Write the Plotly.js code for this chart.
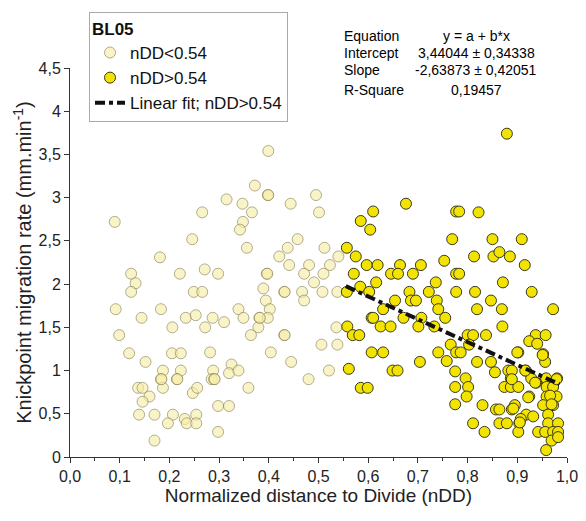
<!DOCTYPE html>
<html>
<head>
<meta charset="utf-8">
<script src="https://cdn.plot.ly/plotly-3.0.1.min.js"></script>
<style>html,body{margin:0;padding:0;background:#fff;}#chart{width:586px;height:521px;}</style>
</head>
<body>
<div id="chart"></div>
<script>
// nDD < 0.54 (pale markers)
var lowX = [0.090,0.266,0.246,0.181,0.123,0.132,0.123,0.221,0.271,0.249,0.266,0.092,0.144,0.183,0.206,0.233,0.253,0.272,0.099,0.119,0.152,0.205,0.223,0.187,0.183,0.187,0.223,0.215,0.137,0.146,0.160,0.146,0.247,0.256,0.139,0.170,0.207,0.197,0.231,0.235,0.254,0.254,0.170,
  0.399,0.372,0.398,0.315,0.347,0.366,0.444,0.495,0.501,0.348,0.342,0.356,0.458,0.438,0.421,0.512,0.441,0.481,0.523,0.540,0.396,0.471,0.510,0.491,0.298,0.389,0.431,0.467,0.508,0.538,0.394,0.471,0.402,0.339,0.349,0.381,0.398,0.379,0.364,0.431,0.287,0.310,0.536,0.538,0.506,0.404,0.282,0.445,0.521,0.480,0.325,0.320,0.339,0.288,0.285,0.290,0.359,0.298,0.320,0.298,
  0.399,0.397,0.432,0.382,0.432,0.184,0.216,0.291];
var lowY = [2.72,2.83,2.52,2.31,2.12,2.01,1.91,2.12,2.17,1.91,1.91,1.71,1.61,1.71,1.50,1.61,1.64,1.50,1.41,1.20,1.10,1.20,1.20,1.00,0.90,0.80,1.00,0.90,0.80,0.80,0.70,0.64,0.74,0.80,0.49,0.49,0.49,0.39,0.44,0.39,0.49,0.39,0.19,
  3.54,3.14,3.03,2.98,2.93,2.83,2.93,3.03,2.83,2.72,2.63,2.42,2.52,2.42,2.32,2.42,2.22,2.22,2.22,2.32,2.12,2.12,2.12,2.02,2.12,1.95,1.91,1.91,1.91,1.91,1.81,1.81,1.71,1.71,1.61,1.61,1.61,1.50,1.41,1.41,1.61,1.56,1.50,1.30,1.30,1.21,1.21,1.10,1.00,0.90,1.07,0.97,1.00,1.00,0.90,0.90,0.80,0.59,0.59,0.29,
  3.03,2.12,1.91,1.61,1.41,0.90,0.90,0.90];

// nDD > 0.54 (yellow markers)
var highX = [0.676,0.610,0.585,0.604,0.777,0.783,0.769,0.557,0.575,0.753,0.597,0.619,0.664,0.706,0.571,0.646,0.660,0.690,0.777,0.783,0.616,0.736,0.584,0.602,0.557,0.683,0.722,0.777,0.738,0.686,0.696,0.654,0.630,0.741,0.607,0.610,0.671,0.707,0.755,0.558,0.625,0.645,0.701,0.733,0.569,0.582,0.766,0.777,0.786,0.607,0.630,0.741,0.758,0.704,0.561,0.649,0.659,0.775,0.585,0.599,0.775,0.775,
  0.879,0.822,0.850,0.909,0.813,0.852,0.864,0.885,0.915,0.815,0.871,0.929,0.847,0.819,0.869,0.972,0.870,0.800,0.811,0.837,0.803,0.937,0.957,0.924,0.940,0.902,0.952,0.956,0.819,0.847,0.882,0.855,0.917,0.928,0.887,0.938,0.958,0.980,0.796,0.801,0.874,0.887,0.902,0.959,0.972,0.798,0.924,0.959,0.979,0.830,0.857,0.864,0.889,0.895,0.952,0.972,0.962,0.918,0.932,0.907,0.811,0.864,0.879,0.904,0.962,0.982,0.834,0.902,0.942,0.956,0.972,0.982,0.969,0.958,0.982,
  0.900,0.951,0.889,0.889,0.916,0.936,0.922,0.979,0.966,0.892,0.905,0.969];
var highY = [2.93,2.84,2.73,2.63,2.84,2.84,2.52,2.42,2.32,2.27,2.22,2.22,2.22,2.22,2.12,2.12,2.12,2.12,2.12,2.12,2.02,2.02,1.97,1.91,1.91,1.91,1.91,1.91,1.81,1.81,1.81,1.81,1.71,1.71,1.61,1.61,1.61,1.61,1.61,1.51,1.51,1.51,1.51,1.51,1.41,1.41,1.30,1.21,1.21,1.21,1.21,1.21,1.11,1.10,1.02,1.00,1.00,0.99,0.80,0.80,0.81,0.61,
  3.74,2.83,2.52,2.52,2.32,2.32,2.37,2.32,2.22,1.91,2.02,1.91,1.81,1.71,1.71,1.71,1.51,1.41,1.41,1.41,1.30,1.41,1.41,1.34,1.31,1.21,1.19,1.10,1.10,1.10,1.00,0.98,1.00,0.91,0.91,0.86,0.91,0.91,0.91,0.81,0.81,0.81,0.81,0.81,0.81,0.70,0.70,0.70,0.70,0.60,0.55,0.55,0.55,0.60,0.60,0.60,0.49,0.49,0.47,0.44,0.39,0.39,0.39,0.39,0.39,0.39,0.29,0.29,0.29,0.29,0.29,0.29,0.19,0.08,0.23,
  1.21,1.18,1.00,0.90,1.00,0.86,0.69,0.90,0.71,0.56,0.40,0.61];

// Linear fit over nDD > 0.54 (y = 3.44044 - 2.63873 x)
var fitX = [0.555, 0.985];
var fitY = [1.976, 0.841];

var statLabels = ["Equation", "Intercept", "Slope", "R-Square"];
var statValues = ["y = a + b*x", "3,44044 \u00b1 0,34338", "-2,63873 \u00b1 0,42051", "0,19457"];

var xTickVals = [0,0.1,0.2,0.3,0.4,0.5,0.6,0.7,0.8,0.9,1.0];
var yTickVals = [0,0.5,1,1.5,2,2.5,3,3.5,4,4.5];

var FONT = "Liberation Sans, Arial, sans-serif";
var TOP = 62, BOTTOM_Y = 457, LEFT = 70, RIGHT_X = 567;

var traces = [
  {x: lowX, y: lowY, type: "scatter", mode: "markers", name: "nDD<0.54",
   marker: {size: 11, color: "rgba(246,238,165,0.62)", line: {color: "rgba(120,112,70,0.55)", width: 1}}},
  {x: highX, y: highY, type: "scatter", mode: "markers", name: "nDD>0.54",
   marker: {size: 11, color: "#f3e300", line: {color: "#3a3a1a", width: 1}}},
  {x: fitX, y: fitY, type: "scatter", mode: "lines", name: "Linear fit; nDD>0.54",
   line: {color: "#111111", width: 4, dash: "10px,4px,4px,4px"}}
];

// pixel -> paper coords
function px(p){ return (p - LEFT) / (RIGHT_X - LEFT); }
function py(p){ return (BOTTOM_Y - p) / (BOTTOM_Y - TOP); }
var rowY = [30, 47, 64, 84];
var annotations = [];
for (var i = 0; i < statLabels.length; i++) {
  annotations.push({xref: "paper", yref: "paper", x: px(342), y: py(rowY[i]), xanchor: "left", yanchor: "middle",
    text: statLabels[i], showarrow: false, font: {family: FONT, size: 14, color: "#000"}});
  annotations.push({xref: "paper", yref: "paper", x: px(476), y: py(rowY[i]), xanchor: "center", yanchor: "middle",
    text: statValues[i], showarrow: false, font: {family: FONT, size: 14, color: "#000"}});
}

var layout = {
  width: 586, height: 521,
  margin: {l: LEFT, r: 586 - RIGHT_X, t: TOP, b: 521 - BOTTOM_Y, pad: 0},
  paper_bgcolor: "#fff", plot_bgcolor: "#fff",
  separators: ", ",
  font: {family: FONT, size: 16, color: "#222"},
  showlegend: true,
  legend: {
    x: px(89), y: py(5), xanchor: "left", yanchor: "top",
    bgcolor: "#fff", bordercolor: "#aaaaaa", borderwidth: 1,
    font: {family: FONT, size: 17, color: "#111"},
    title: {text: "<b>BL05</b>", font: {family: FONT, size: 17, color: "#111"}},
    tracegroupgap: 0, entrywidth: 180, entrywidthmode: "pixels"
  },
  xaxis: {
    range: [0, 1], tickvals: xTickVals, tickformat: ".1f",
    showgrid: false, zeroline: false, showline: true, linecolor: "#333", linewidth: 1,
    ticks: "outside", ticklen: 5, tickcolor: "#333",
    minor: {dtick: 0.05, ticks: "outside", ticklen: 3, tickcolor: "#333", showgrid: false},
    tickfont: {family: FONT, size: 16, color: "#222"},
    title: {text: "Normalized distance to Divide (nDD)", font: {family: FONT, size: 19, color: "#222"}, standoff: 1}
  },
  yaxis: {
    range: [0, 4.5], tickvals: yTickVals,
    showgrid: false, zeroline: false, showline: true, linecolor: "#333", linewidth: 1,
    ticks: "outside", ticklen: 5, tickcolor: "#333",
    tickfont: {family: FONT, size: 16, color: "#222"},
    title: {text: "Knickpoint migration rate (mm.min<sup>-1</sup>)", font: {family: FONT, size: 20, color: "#222"}, standoff: 1}
  },
  annotations: annotations
};

Plotly.newPlot("chart", traces, layout, {displayModeBar: false, staticPlot: true});
</script>
</body>
</html>
